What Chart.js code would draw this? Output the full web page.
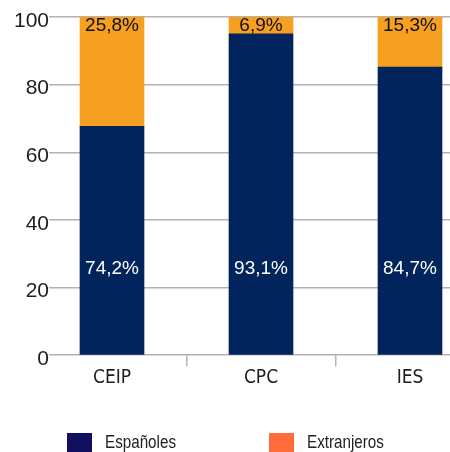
<!DOCTYPE html>
<html>
<head>
<meta charset="utf-8">
<script src="https://cdn.jsdelivr.net/npm/chart.js@4/dist/chart.umd.min.js"></script>
<style>
  html, body { margin: 0; padding: 0; background: #fff; overflow: hidden; }
  #wrap { position: relative; width: 450px; height: 452px; }
  #legend { position: absolute; left: 0; top: 433px; width: 450px; height: 19px; }
  .item { position: absolute; top: 0; height: 19px; font-family: 'Liberation Sans', Arial, sans-serif; font-size: 19px; color: #222; }
  .box { position: absolute; left: 0; top: 0; width: 25px; height: 19px; }
  .txt { position: absolute; top: -1px; white-space: nowrap; line-height: 19px; transform: scaleX(0.8); transform-origin: 0 50%; }
</style>
</head>
<body>
<div id="wrap">
  <canvas id="c" width="450" height="452"></canvas>
  <div id="legend"></div>
</div>
<script>
// ---- data ----
const categories = ['CEIP', 'CPC', 'IES'];
const espanoles = [67.7, 95.0, 85.2];
const extranjeros = [32.3, 5.0, 14.8];
const espanolesLabels = ['74,2%', '93,1%', '84,7%'];
const extranjerosLabels = ['25,8%', '6,9%', '15,3%'];
const yTicks = [0, 20, 40, 60, 80, 100];
const seriesNames = ['Españoles', 'Extranjeros'];

// ---- styles ----
const barColors = ['#00245B', '#F69F20'];
const legendColors = ['#10105E', '#FF6B3A'];
const gridColor = '#B8B0AE';

const valueLabels = {
  id: 'valueLabels',
  afterDatasetsDraw(chart) {
    const ctx = chart.ctx;
    const y = chart.scales.y;
    ctx.save();
    ctx.font = '19px "Liberation Sans", Arial, sans-serif';
    ctx.textAlign = 'center';
    ctx.textBaseline = 'middle';
    const m0 = chart.getDatasetMeta(0);
    const m1 = chart.getDatasetMeta(1);
    m0.data.forEach((bar, i) => {
      ctx.fillStyle = '#FFFFFF';
      ctx.fillText(espanolesLabels[i], bar.x, y.getPixelForValue(25.5));
    });
    m1.data.forEach((bar, i) => {
      ctx.fillStyle = '#111111';
      ctx.fillText(extranjerosLabels[i], bar.x, y.getPixelForValue(100) + 9);
    });
    ctx.restore();
  }
};

new Chart(document.getElementById('c'), {
  type: 'bar',
  data: {
    labels: categories.map((c, i) => i),
    datasets: [
      { label: seriesNames[0], data: espanoles, backgroundColor: barColors[0], barThickness: 64 },
      { label: seriesNames[1], data: extranjeros, backgroundColor: barColors[1], barThickness: 64 }
    ]
  },
  options: {
    responsive: false,
    animation: false,
    layout: { padding: { top: 17, right: 0, bottom: 63, left: 0 } },
    plugins: { legend: { display: false }, tooltip: { enabled: false } },
    scales: {
      x: {
        type: 'linear',
        stacked: true,
        offset: false,
        min: -0.4228,
        max: 2.2685,
        afterBuildTicks(scale) { scale.ticks = categories.map((c, i) => ({ value: i })); },
        ticks: {
          callback: (v) => categories[v],
          color: '#1e1e1e',
          padding: 0,
          font: { family: "'Liberation Sans Narrow', 'DejaVu Sans Condensed', sans-serif", size: 19 }
        },
        grid: { offset: true, drawOnChartArea: false, drawTicks: true, tickLength: 11, color: gridColor, lineWidth: 1.5 },
        border: { display: false }
      },
      y: {
        stacked: true,
        min: 0,
        max: 100,
        afterBuildTicks(scale) { scale.ticks = yTicks.map(v => ({ value: v })); },
        afterFit(scale) { scale.width = 49; },
        ticks: {
          color: '#1e1e1e',
          padding: 0,
          labelOffset: 4,
          font: { family: "'Liberation Sans', Arial, sans-serif", size: 21 }
        },
        grid: { drawTicks: false, color: gridColor, lineWidth: 1.5 },
        border: { display: false }
      }
    }
  },
  plugins: [valueLabels]
});

// legend
const legendPos = [67, 269];
const leg = document.getElementById('legend');
seriesNames.forEach((name, i) => {
  const it = document.createElement('div');
  it.className = 'item';
  it.style.left = legendPos[i] + 'px';
  const b = document.createElement('div');
  b.className = 'box';
  b.style.background = legendColors[i];
  const t = document.createElement('div');
  t.className = 'txt';
  t.style.left = '38px';
  t.textContent = name;
  it.appendChild(b); it.appendChild(t);
  leg.appendChild(it);
});
</script>
</body>
</html>
